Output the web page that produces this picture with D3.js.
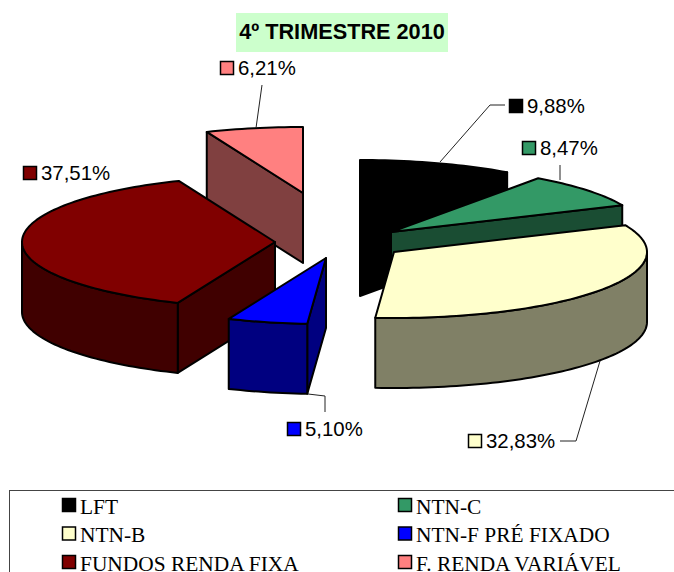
<!DOCTYPE html>
<html>
<head>
<meta charset="utf-8">
<script src="https://cdn.jsdelivr.net/npm/d3@7"></script>
<style>
  html, body { margin: 0; padding: 0; background: #fff; }
  svg { display: block; }
</style>
</head>
<body>
<div id="chart"></div>
<script>
// data
const categories = ["LFT", "NTN-C", "NTN-B", "NTN-F PRÉ FIXADO", "FUNDOS RENDA FIXA", "F. RENDA VARIÁVEL"];
const values = [9.88, 8.47, 32.83, 5.10, 37.51, 6.21];
const valueLabels = ["9,88%", "8,47%", "32,83%", "5,10%", "37,51%", "6,21%"];
const colors = ["#000000", "#339966", "#FFFFCC", "#0000FF", "#800000", "#FF8080"];
const sideColors = ["#000000", "#1A4D33", "#808066", "#000080", "#400000", "#804040"];
const chartTitle = "4º TRIMESTRE 2010";

// layout
const width = 674, height = 572;
const rx = 253, ry = 66, depth = 70;
const centers = [[360, 226], [391, 232], [394, 252], [326, 258], [275, 242], [303, 193]];
const drawOrder = [0, 5, 1, 4, 3, 2];
const labelPos = [[509, 99], [522, 141], [468, 434], [287, 422], [23, 166], [220, 61]];
const leaders = [
    [[440, 162], [490, 105], [505, 105]],
    [[560, 180], [560, 165]],
    [[600, 361], [576, 441], [560, 441]],
    [[308, 394], [325, 396], [325, 412]],
    [],
    [[256, 128], [262, 85]]
];

const svg = d3.select("#chart").append("svg")
    .attr("width", width)
    .attr("height", height);

const pie = d3.pie().sort(null).value(d => d);
const arcs = pie(values);
const line = d3.line();

function rim(c, t, dz = 0) {
    return [c[0] + rx * Math.sin(t), c[1] - ry * Math.cos(t) + dz];
}
function rimPoints(c, a, b, dz = 0) {
    const n = Math.max(2, Math.ceil((b - a) * 40));
    return d3.range(n + 1).map(i => rim(c, a + (b - a) * i / n, dz));
}

// slices, back to front
const sliceG = svg.append("g")
    .attr("stroke", "#000")
    .attr("stroke-width", 2)
    .attr("stroke-linejoin", "round");

drawOrder.forEach(i => {
    const c = centers[i], a = arcs[i].startAngle, b = arcs[i].endAngle;
    const g = sliceG.append("g").attr("class", "slice");
    const apexLow = [c[0], c[1] + depth];

    // cut faces that look towards the viewer
    if (Math.sin(a) < 0) {
        const p = rim(c, a);
        g.append("path").attr("fill", sideColors[i])
            .attr("d", line([c, p, [p[0], p[1] + depth], apexLow]) + "Z");
    }
    if (Math.sin(b) > 0) {
        const p = rim(c, b);
        g.append("path").attr("fill", sideColors[i])
            .attr("d", line([c, p, [p[0], p[1] + depth], apexLow]) + "Z");
    }
    // outer wall
    const wa = Math.max(a, Math.PI / 2), wb = Math.min(b, Math.PI * 1.5);
    if (wb > wa) {
        const top = rimPoints(c, wa, wb);
        const bottom = rimPoints(c, wa, wb, depth).reverse();
        g.append("path").attr("fill", sideColors[i])
            .attr("d", line(top.concat(bottom)) + "Z");
    }
    // top
    g.append("path").attr("fill", colors[i])
        .attr("d", line([c].concat(rimPoints(c, a, b))) + "Z");
});

// leader lines
svg.append("g").selectAll("path")
    .data(leaders.filter(d => d.length))
    .join("path")
    .attr("d", d => line(d))
    .attr("fill", "none")
    .attr("stroke", "#222")
    .attr("stroke-width", 1);

// data labels
const labels = svg.append("g").selectAll("g")
    .data(valueLabels)
    .join("g")
    .attr("transform", (d, i) => `translate(${labelPos[i][0]},${labelPos[i][1]})`);

labels.append("rect")
    .attr("x", 0.5).attr("y", 0.5)
    .attr("width", 13).attr("height", 13)
    .attr("fill", (d, i) => colors[i])
    .attr("stroke", "#000")
    .attr("stroke-width", 1.5);

labels.append("text")
    .attr("x", 18).attr("y", 13.5)
    .attr("font-family", "Liberation Sans")
    .attr("font-size", 20.4)
    .attr("fill", "#000")
    .text(d => d);

// title
svg.append("rect")
    .attr("x", 236).attr("y", 13)
    .attr("width", 212).attr("height", 39)
    .attr("fill", "#CCFFCC");

svg.append("text")
    .attr("x", 342).attr("y", 39)
    .attr("text-anchor", "middle")
    .attr("font-family", "Liberation Sans")
    .attr("font-weight", "bold")
    .attr("font-size", 21.7)
    .attr("fill", "#000")
    .text(chartTitle);

// legend
svg.append("rect")
    .attr("x", 9.5).attr("y", 490.5)
    .attr("width", 680).attr("height", 100)
    .attr("fill", "#fff")
    .attr("stroke", "#444")
    .attr("stroke-width", 1);

const legendX = d3.scalePoint().domain([0, 1]).range([62, 398]);
const legendY = d3.scalePoint().domain([0, 1, 2]).range([498, 555]);

const legend = svg.append("g").selectAll("g")
    .data(categories)
    .join("g")
    .attr("transform", (d, i) => `translate(${legendX(i % 2)},${legendY(Math.floor(i / 2))})`);

legend.append("rect")
    .attr("x", 0.5).attr("y", 0.5)
    .attr("width", 13).attr("height", 13)
    .attr("fill", (d, i) => colors[i])
    .attr("stroke", "#000")
    .attr("stroke-width", 1.5);

legend.append("text")
    .attr("x", 18).attr("y", 15.5)
    .attr("font-family", "Liberation Serif")
    .attr("font-size", 21.4)
    .attr("fill", "#000")
    .text(d => d);
</script>
</body>
</html>
